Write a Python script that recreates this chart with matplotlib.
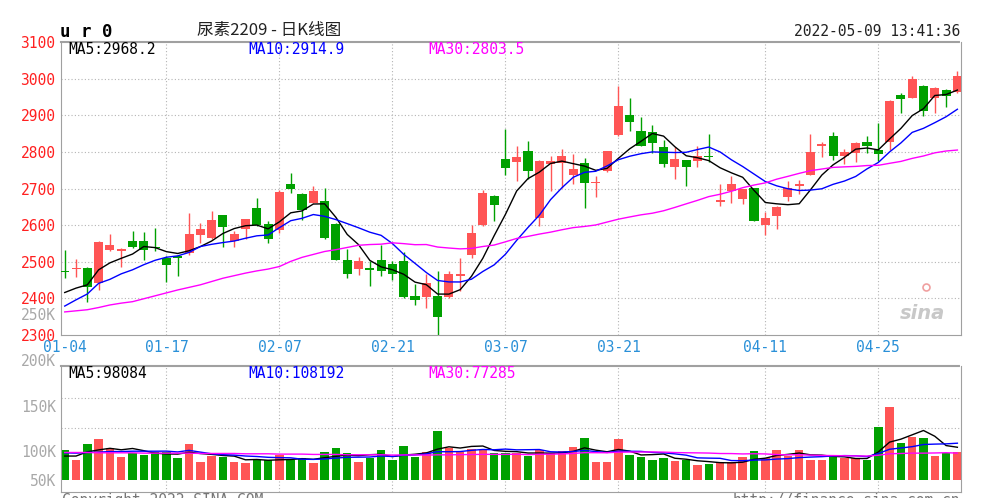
import matplotlib
matplotlib.use('Agg')
import matplotlib.pyplot as plt
import numpy as np

W, H = 982, 498

# daily K-line for 尿素2209, 2022-01-04 .. 2022-05-09 (80 sessions)
opens = [2476, 2479, 2483, 2441, 2533, 2528, 2556, 2556, 2541, 2510,
         2517, 2524, 2574, 2565, 2627, 2556, 2590, 2648, 2603, 2588,
         2712, 2684, 2661, 2667, 2604, 2506, 2480, 2482, 2506, 2495,
         2503, 2407, 2405, 2407, 2403, 2462, 2519, 2599, 2679, 2781,
         2772, 2802, 2620, 2766, 2770, 2738, 2770, 2714, 2747, 2845,
         2900, 2857, 2853, 2814, 2759, 2778, 2775, 2788, 2662, 2694,
         2672, 2700, 2599, 2625, 2678, 2707, 2738, 2816, 2844, 2790,
         2797, 2828, 2804, 2826, 2954, 2948, 2981, 2948, 2970, 2963]
highs = [2533, 2507, 2485, 2556, 2576, 2537, 2585, 2581, 2593, 2517,
         2519, 2634, 2606, 2639, 2628, 2585, 2618, 2675, 2612, 2696,
         2742, 2688, 2708, 2702, 2606, 2536, 2512, 2501, 2545, 2502,
         2526, 2440, 2466, 2474, 2474, 2510, 2599, 2697, 2682, 2863,
         2816, 2830, 2778, 2790, 2807, 2793, 2784, 2734, 2803, 2979,
         2946, 2894, 2873, 2832, 2814, 2779, 2816, 2848, 2712, 2735,
         2700, 2702, 2636, 2651, 2721, 2724, 2849, 2828, 2853, 2808,
         2826, 2843, 2878, 2943, 2961, 3006, 2982, 2977, 2971, 3020]
lows = [2455, 2458, 2391, 2423, 2530, 2487, 2537, 2506, 2528, 2446,
        2462, 2519, 2550, 2563, 2540, 2540, 2561, 2597, 2550, 2579,
        2687, 2615, 2660, 2562, 2504, 2455, 2463, 2434, 2460, 2451,
        2400, 2382, 2373, 2296, 2401, 2419, 2510, 2597, 2611, 2738,
        2720, 2725, 2597, 2693, 2702, 2711, 2647, 2677, 2746, 2844,
        2857, 2815, 2796, 2759, 2726, 2706, 2759, 2772, 2652, 2661,
        2659, 2610, 2574, 2590, 2666, 2684, 2737, 2786, 2777, 2768,
        2772, 2797, 2774, 2804, 2907, 2947, 2897, 2907, 2923, 2962]
closes = [2473, 2482, 2430, 2553, 2547, 2535, 2540, 2533, 2538, 2492,
          2510, 2577, 2590, 2614, 2595, 2577, 2616, 2599, 2562, 2691,
          2700, 2642, 2693, 2565, 2506, 2467, 2503, 2478, 2476, 2467,
          2405, 2396, 2443, 2348, 2466, 2466, 2579, 2688, 2656, 2757,
          2787, 2747, 2776, 2775, 2789, 2752, 2714, 2718, 2802, 2926,
          2882, 2816, 2825, 2766, 2781, 2759, 2789, 2786, 2668, 2712,
          2698, 2611, 2620, 2650, 2700, 2711, 2801, 2821, 2790, 2801,
          2824, 2817, 2795, 2939, 2945, 2999, 2912, 2975, 2952, 3006]
# volume in thousands
volumes = [92.7, 61.8, 111, 126, 98, 70, 82, 77, 87, 87,
           67, 111, 57, 74, 70, 57, 54, 62, 62, 77,
           62, 67, 51.5, 87, 98, 82, 57, 67, 93, 62,
           106, 70, 87, 152, 98, 87, 95, 93, 84, 84,
           82, 74, 93, 82, 90, 103, 129, 57, 57, 126,
           77, 70, 62, 67, 60, 62, 46, 49, 51, 57,
           72, 90, 67, 93, 74, 93, 62, 62, 74, 67,
           67, 62, 163, 226, 113, 134, 129, 74, 82, 87]

# moving-average values before enough sessions exist
ma5_head = [2416, 2428, 2437, 2478]
ma10_head = [2379, 2396, 2412, 2441, 2452, 2467, 2478, 2492, 2504]
ma30_head = [2363, 2366, 2369, 2375, 2382, 2387, 2391, 2399, 2407, 2415,
             2423, 2430, 2437, 2446, 2455, 2462, 2469, 2475, 2480, 2487,
             2501, 2512, 2520, 2528, 2533, 2539, 2545, 2547, 2548]
vma5_head = [74, 74, 87, 93]
vma10_head = [84, 83, 85, 86, 88, 88, 89, 89, 89]
vma30_head = [85, 85, 85, 84, 84, 84, 84, 83, 83, 83,
              83, 83, 82, 82, 82, 82, 81, 81, 81, 80,
              80, 80, 79, 79, 79, 78, 78, 78, 78]

tick_pos = [0, 9, 19, 29, 39, 49, 62, 72]
tick_labels = ['01-04', '01-17', '02-07', '02-21', '03-07', '03-21', '04-11', '04-25']
price_ticks = [2300, 2400, 2500, 2600, 2700, 2800, 2900, 3000, 3100]
vol_labels = ['250K', '200K', '150K', '100K', '50K']

RED = '#ff5555'
GREEN = '#00a000'
GRID = '#b4b4b4'
MONO = 'DejaVu Sans Mono'


def moving_avg(vals, n, head):
    out = list(head)
    for i in range(len(head), len(vals)):
        out.append(np.mean(vals[i - n + 1:i + 1]))
    return out


def px_axes(fig, left, top, right, bottom):
    return fig.add_axes([left / W, 1 - bottom / H, (right - left) / W, (bottom - top) / H])


def ftext(fig, x, y, s, **kw):
    fig.text(x / W, 1 - y / H, s, **kw)


fig = plt.figure(figsize=(W / 100, H / 100), dpi=100)
fig.patch.set_facecolor('white')

n = len(closes)
x = np.arange(n)
colors = [RED if c >= o else GREEN for o, c in zip(opens, closes)]

# ---- price panel ----
ax = px_axes(fig, 61, 42, 961, 335)
ax.set_xlim(-0.33, 79.32)
ax.set_ylim(2300, 3100)
for p in price_ticks[1:-1]:
    ax.axhline(p, color=GRID, lw=0.8, ls=(0, (1, 2)), zorder=0)
for t in tick_pos[1:]:
    ax.axvline(t, color=GRID, lw=0.8, ls=(0, (1, 2)), zorder=0)

ax.vlines(x, lows, highs, colors=colors, lw=1.0, zorder=2)
bodies = [max(abs(c - o), 2.5) for o, c in zip(opens, closes)]
bottoms = [min(o, c) for o, c in zip(opens, closes)]
ax.bar(x, bodies, bottom=bottoms, width=0.8, color=colors, lw=0, zorder=3)

ax.plot(x, moving_avg(closes, 5, ma5_head), color='black', lw=1, zorder=4)
ax.plot(x, moving_avg(closes, 10, ma10_head), color='#0000ff', lw=1, zorder=4)
ax.plot(x, moving_avg(closes, 30, ma30_head), color='#ff00ff', lw=1, zorder=4)

ax.set_yticks(price_ticks)
ax.set_yticklabels([str(p) for p in price_ticks], family=MONO, fontsize=10.5, color='#ff2020')
ax.set_xticks(tick_pos)
ax.set_xticklabels(tick_labels, family=MONO, fontsize=10.5, color='#2a90d8')
ax.tick_params(axis='both', length=0)
ax.tick_params(axis='y', pad=4)
ax.tick_params(axis='x', pad=3.5)
for side in ['left', 'right', 'bottom']:
    ax.spines[side].set_color('#a0a0a0')
ax.spines['top'].set_color('#a0a0a0')
ax.spines['top'].set_linestyle((0, (1, 1)))
ax.spines['top'].set_linewidth(1.5)

# watermark
ax.text(0.957, 0.075, 'sina', transform=ax.transAxes, ha='center', va='center',
        fontsize=14, fontweight='bold', style='italic', color='#c8c8c8')
ax.plot([76.2], [2430], marker='o', ms=5, mfc='none', mec='#f0a0a0', mew=1.2, zorder=1)

# ---- volume panel ----
vax = px_axes(fig, 61, 366, 961, 492)
vax.set_xlim(-0.33, 79.32)
vax.set_ylim(-37.1, 352.3)
for v in [253, 161]:
    vax.axhline(v, color=GRID, lw=0.8, ls=(0, (1, 2)), zorder=0)
for t in tick_pos[1:]:
    vax.axvline(t, color=GRID, lw=0.8, ls=(0, (1, 2)), zorder=0)
vax.bar(x, volumes, width=0.75, color=colors, lw=0, zorder=2)
vax.plot(x, moving_avg(volumes, 5, vma5_head), color='black', lw=1, zorder=4)
vax.plot(x, moving_avg(volumes, 10, vma10_head), color='#0000ff', lw=1, zorder=4)
vax.plot(x, moving_avg(volumes, 30, vma30_head), color='#ff00ff', lw=1, zorder=4)
vax.set_xticks([])
vax.set_yticks([])
for side in ['left', 'right', 'bottom']:
    vax.spines[side].set_color('#a0a0a0')
vax.spines['top'].set_color('#a0a0a0')
vax.spines['top'].set_linestyle((0, (1, 1)))
vax.spines['top'].set_linewidth(1.5)

# ---- header / labels ----
ftext(fig, 60, 32, 'u r 0', family=MONO, fontweight='bold', fontsize=12.5, va='center', ha='left')
ftext(fig, 197, 31, '尿素2209 - 日K线图', family=['Noto Sans CJK SC', 'DejaVu Sans'],
      fontsize=12, va='center', ha='left', color='#222222')
ftext(fig, 960, 32, '2022-05-09 13:41:36', family=MONO, fontsize=10.5, va='center', ha='right', color='#222222')

ftext(fig, 68, 50, 'MA5:2968.2', family=MONO, fontsize=10.5, va='center', color='black')
ftext(fig, 248, 50, 'MA10:2914.9', family=MONO, fontsize=10.5, va='center', color='#0000ff')
ftext(fig, 428, 50, 'MA30:2803.5', family=MONO, fontsize=10.5, va='center', color='#ff00ff')

ftext(fig, 68, 373, 'MA5:98084', family=MONO, fontsize=10.5, va='center', color='black')
ftext(fig, 248, 373, 'MA10:108192', family=MONO, fontsize=10.5, va='center', color='#0000ff')
ftext(fig, 428, 373, 'MA30:77285', family=MONO, fontsize=10.5, va='center', color='#ff00ff')

for lab, yy in zip(vol_labels, [316, 361, 407, 452, 481]):
    ftext(fig, 56, yy, lab, family=MONO, fontsize=10.5, va='center', ha='right', color='#a8a8a8')

ftext(fig, 62, 493, 'Copyright 2022 SINA.COM', family=MONO, fontsize=10.5, va='top', ha='left', color='#777777')
ftext(fig, 960, 493, 'http://finance.sina.com.cn', family=MONO, fontsize=10.5, va='top', ha='right', color='#777777')

fig.savefig('out.png', dpi=100, facecolor='white')
